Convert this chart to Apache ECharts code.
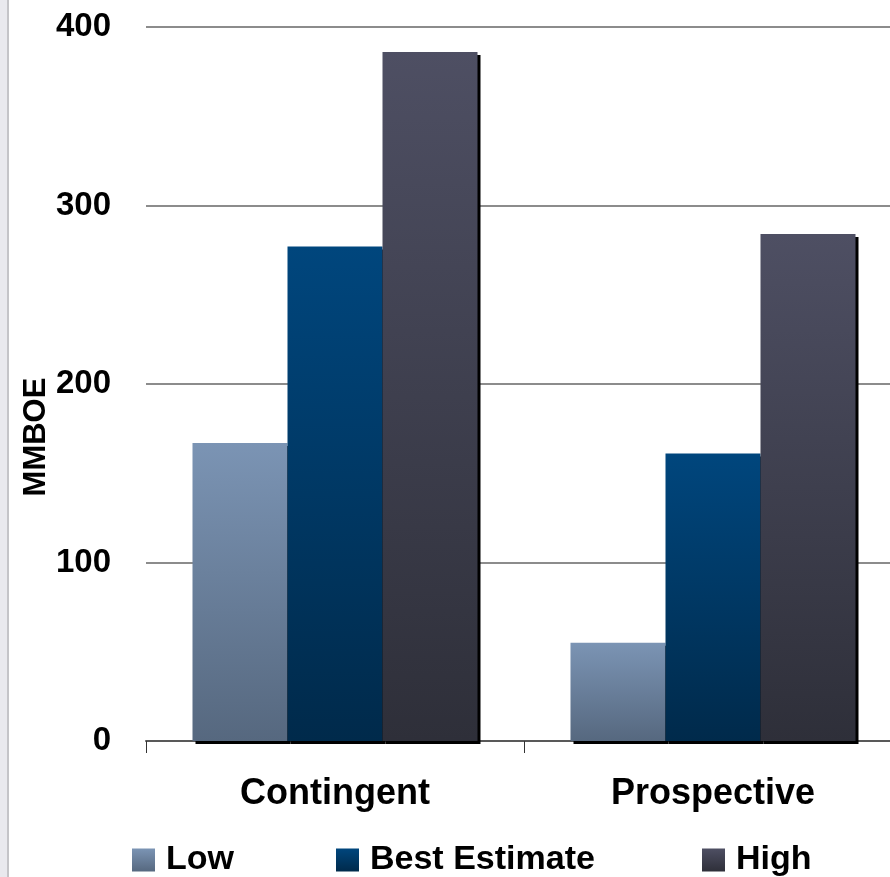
<!DOCTYPE html>
<html>
<head>
<meta charset="utf-8">
<script src="https://cdn.jsdelivr.net/npm/echarts@6/dist/echarts.min.js"></script>
<style>
  html, body { margin: 0; padding: 0; background: #ffffff; overflow: hidden; }
  /* plot area runs slightly past the right edge of the window */
  #chart { width: 902px; height: 877px; }
</style>
</head>
<body>
<div id="chart"></div>
<script>
// Resource estimates (MMBOE) by category
const categories = ['Contingent', 'Prospective'];
const lowValues = [167, 55];
const bestValues = [277, 161];
const highValues = [386, 284];
const seriesNames = ['Low', 'Best Estimate', 'High'];
const yTicks = [0, 100, 200, 300, 400];

const FONT = '"Liberation Sans", Arial, sans-serif';

function grad(top, bottom) {
  return new echarts.graphic.LinearGradient(0, 0, 0, 1, [
    { offset: 0, color: top },
    { offset: 1, color: bottom }
  ]);
}

const palette = [
  grad('#7b94b4', '#56687f'),
  grad('#00467d', '#002a4b'),
  grad('#4e4f63', '#2e2f39')
];

function barSeries(name, data, color) {
  return {
    name: name,
    type: 'bar',
    data: data,
    barGap: '0%',
    barCategoryGap: '24.6%',
    itemStyle: {
      color: color,
      shadowColor: '#000000',
      shadowBlur: 0,
      shadowOffsetX: 3,
      shadowOffsetY: 3
    }
  };
}

function legendAt(name, left) {
  return {
    data: [name],
    left: left,
    top: 843,
    icon: 'rect',
    itemWidth: 23,
    itemHeight: 23,
    itemGap: 10,
    padding: 0,
    selectedMode: false,
    itemStyle: { shadowColor: 'rgba(0,0,0,0)', shadowOffsetX: 0, shadowOffsetY: 0 },
    textStyle: {
      fontFamily: FONT,
      fontWeight: 'bold',
      fontSize: 34,
      color: '#000000',
      padding: [0, 0, 0, 6]
    }
  };
}

const chart = echarts.init(document.getElementById('chart'), null, { renderer: 'canvas' });

chart.setOption({
  animation: false,
  backgroundColor: '#ffffff',
  grid: { left: 146, top: 27, right: 0, bottom: 136, containLabel: false },
  legend: [
    legendAt(seriesNames[0], 132),
    legendAt(seriesNames[1], 336),
    legendAt(seriesNames[2], 702)
  ],
  graphic: [
    { type: 'rect', left: 0, top: 0, shape: { width: 7, height: 877 }, style: { fill: '#e9e9ee' }, silent: true },
    { type: 'rect', left: 7, top: 0, shape: { width: 2, height: 877 }, style: { fill: '#c4c4c8' }, silent: true },
    {
      type: 'text',
      x: 36,
      y: 437,
      rotation: Math.PI / 2,
      style: {
        text: 'MMBOE',
        fontFamily: FONT,
        fontWeight: 'bold',
        fontSize: 31,
        fill: '#000000',
        align: 'center',
        verticalAlign: 'middle'
      }
    }
  ],
  xAxis: {
    type: 'category',
    data: categories,
    axisLine: { show: true, lineStyle: { color: '#595959', width: 2 } },
    axisTick: { show: true, length: 12, lineStyle: { color: '#333333', width: 1 } },
    axisLabel: {
      margin: 35,
      fontFamily: FONT,
      fontWeight: 'bold',
      fontSize: 36,
      color: '#000000'
    }
  },
  yAxis: {
    type: 'value',
    min: yTicks[0],
    max: yTicks[yTicks.length - 1],
    interval: 100,
    axisLine: { show: false },
    axisTick: { show: false },
    splitLine: { show: true, lineStyle: { color: '#8c8c8c', width: 2 } },
    axisLabel: {
      margin: 35,
      fontFamily: FONT,
      fontWeight: 'bold',
      fontSize: 33,
      color: '#000000'
    }
  },
  series: [
    barSeries(seriesNames[0], lowValues, palette[0]),
    barSeries(seriesNames[1], bestValues, palette[1]),
    barSeries(seriesNames[2], highValues, palette[2])
  ]
});
</script>
</body>
</html>
